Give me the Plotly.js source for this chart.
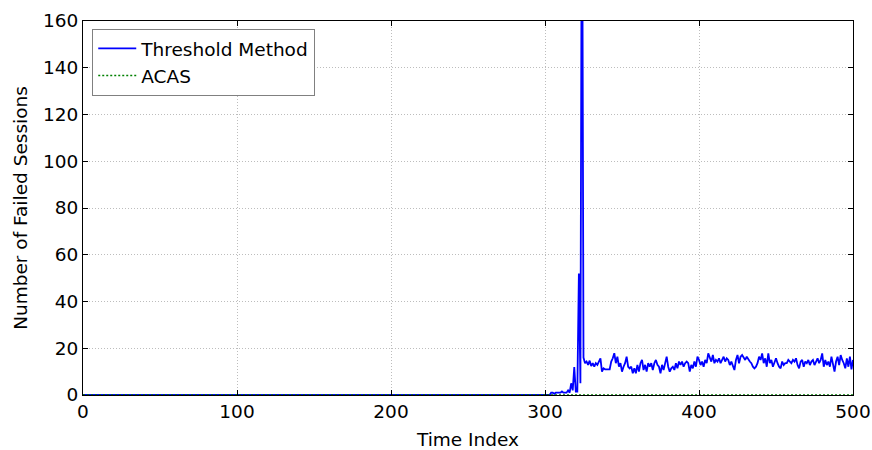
<!DOCTYPE html>
<html>
<head>
<meta charset="utf-8">
<script src="https://cdn.plot.ly/plotly-3.0.1.min.js"></script>
<style>html,body{margin:0;padding:0;background:#fff;}</style>
</head>
<body>
<div id="chart" style="width:872px;height:450px;"></div>
<script>
// Threshold Method: failed sessions per time index (0..500)
const thresholdValues = [
  0,0,0,0,0,0,0,0,0,0, 0,0,0,0,0,0,0,0,0,0, 0,0,0,0,0,0,0,0,0,0, 0,0,0,0,0,0,0,0,0,0, 0,0,0,0,0,0,0,0,0,0,
  0,0,0,0,0,0,0,0,0,0, 0,0,0,0,0,0,0,0,0,0, 0,0,0,0,0,0,0,0,0,0, 0,0,0,0,0,0,0,0,0,0, 0,0,0,0,0,0,0,0,0,0,
  0,0,0,0,0,0,0,0,0,0, 0,0,0,0,0,0,0,0,0,0, 0,0,0,0,0,0,0,0,0,0, 0,0,0,0,0,0,0,0,0,0, 0,0,0,0,0,0,0,0,0,0,
  0,0,0,0,0,0,0,0,0,0, 0,0,0,0,0,0,0,0,0,0, 0,0,0,0,0,0,0,0,0,0, 0,0,0,0,0,0,0,0,0,0, 0,0,0,0,0,0,0,0,0,0,
  0,0,0,0,0,0,0,0,0,0, 0,0,0,0,0,0,0,0,0,0, 0,0,0,0,0,0,0,0,0,0, 0,0,0,0,0,0,0,0,0,0, 0,0,0,0,0,0,0,0,0,0,
  0,0,0,0,0,0,0,0,0,0, 0,0,0,0,0,0,0,0,0,0, 0,0,0,0,0,0,0,0,0,0, 0,0,0,0,0,0,0,0,0,0, 0,0,0,0,0,0,0,0,0,0,
  0,0,0,0,
  // 304..325
  1,1,0.5,1,1,1,1,1.5,1,1,1,2,1,5,2,12,1.5,1.5,52,5,250,16,
  // 326..400
  13.6,14.3,12.9,14.7,12.4,13.6,12.1,13.6,12.9,14.3,15.7,10,11.4,11,11,11,11,14.3,15.7,17.9,
  13.6,16.4,12.1,13.6,10,12.1,13.6,16.4,12.1,11.4,12.1,9.3,11.4,9.3,12.9,10,13.6,15,10.7,12.9,
  10,13.6,12.1,13.6,10.7,13.6,15,12.9,12.1,9.3,12.9,10.7,13.6,16.4,12.1,10,11.4,12.1,10.7,13.6,
  11.4,14.3,12.9,14.3,12.1,13.6,14.3,13.6,10,12.9,11.4,14.3,12.1,16.4,15,
  // 401..500
  12.8,14.3,12.1,15,13.6,17.8,16.4,14.3,17.1,13.6,15,14.3,15.7,13.6,15,16.4,14.3,15.7,15,12.8,
  14.3,12.1,10.7,15,17.1,13.6,16.4,17.1,15.7,15,16.4,15,14.3,13.6,12.1,11.4,12.1,13.6,16.4,15,
  17.8,13.6,15.7,12.1,17.8,13.6,15,12.1,13.6,15.7,13.6,12.1,11.4,14.3,12.8,13.6,13.6,15,14.3,13.6,
  15,14.3,15.7,12.8,11.4,14.3,15,12.1,14.3,13.6,15,12.8,14.3,15,12.8,14.3,15.7,13.6,15,17.8,
  12.1,15,12.8,14.3,12.1,16.4,13.6,10,14.3,16.4,12.8,17.1,15,13.6,11.4,15.7,12.1,16.4,11,15
];

// ACAS: failed sessions per time index (0..500)
const acasValues = [
  0,0,0,0,0,0,0,0,0,0, 0,0,0,0,0,0,0,0,0,0, 0,0,0,0,0,0,0,0,0,0, 0,0,0,0,0,0,0,0,0,0, 0,0,0,0,0,0,0,0,0,0,
  0,0,0,0,0,0,0,0,0,0, 0,0,0,0,0,0,0,0,0,0, 0,0,0,0,0,0,0,0,0,0, 0,0,0,0,0,0,0,0,0,0, 0,0,0,0,0,0,0,0,0,0,
  0,0,0,0,0,0,0,0,0,0, 0,0,0,0,0,0,0,0,0,0, 0,0,0,0,0,0,0,0,0,0, 0,0,0,0,0,0,0,0,0,0, 0,0,0,0,0,0,0,0,0,0,
  0,0,0,0,0,0,0,0,0,0, 0,0,0,0,0,0,0,0,0,0, 0,0,0,0,0,0,0,0,0,0, 0,0,0,0,0,0,0,0,0,0, 0,0,0,0,0,0,0,0,0,0,
  0,0,0,0,0,0,0,0,0,0, 0,0,0,0,0,0,0,0,0,0, 0,0,0,0,0,0,0,0,0,0, 0,0,0,0,0,0,0,0,0,0, 0,0,0,0,0,0,0,0,0,0,
  0,0,0,0,0,0,0,0,0,0, 0,0,0,0,0,0,0,0,0,0, 0,0,0,0,0,0,0,0,0,0, 0,0,0,0,0,0,0,0,0,0, 0,0,0,0,0,0,0,0,0,0,
  0,0,0,0,0,0,0,0,0,0, 0,0,0,0,0,0,0,0,0,0, 0,0,0,0,0,0,0,0,0,0, 0,0,0,0,0,0,0,0,0,0, 0,0,0,0,0,0,0,0,0,0,
  0,0,0,0,0,0,0,0,0,0, 0,0,0,0,0,0,0,0,0,0, 0,0,0,0,0,0,0,0,0,0, 0,0,0,0,0,0,0,0,0,0, 0,0,0,0,0,0,0,0,0,0,
  0,0,0,0,0,0,0,0,0,0, 0,0,0,0,0,0,0,0,0,0, 0,0,0,0,0,0,0,0,0,0, 0,0,0,0,0,0,0,0,0,0, 0,0,0,0,0,0,0,0,0,0,
  0,0,0,0,0,0,0,0,0,0, 0,0,0,0,0,0,0,0,0,0, 0,0,0,0,0,0,0,0,0,0, 0,0,0,0,0,0,0,0,0,0, 0,0,0,0,0,0,0,0,0,0,
  0
];

const seriesNames = ['Threshold Method', 'ACAS'];
const xTickValues = [0, 100, 200, 300, 400, 500];
const yTickValues = [0, 20, 40, 60, 80, 100, 120, 140, 160];

const idx = arr => arr.map((_, i) => i);

const traces = [
  { x: idx(thresholdValues), y: thresholdValues, name: seriesNames[0], type: 'scatter', mode: 'lines',
    line: { color: '#0000ff', width: 1.8 } },
  { x: idx(acasValues), y: acasValues, name: seriesNames[1], type: 'scatter', mode: 'lines',
    line: { color: '#008000', width: 1.5, dash: '2px,2px' } }
];

const FS = 18.5;

const axisCommon = {
  ticks: 'inside', ticklen: 5, tickwidth: 1, tickcolor: 'black',
  showline: true, linecolor: 'black', linewidth: 1, mirror: 'ticks',
  showgrid: true, gridcolor: '#bdbdbd', griddash: '1px,2px', gridwidth: 1,
  zeroline: false, tickfont: { size: FS, color: 'black' }
};

const layout = {
  width: 872, height: 450,
  margin: { l: 83, r: 19, t: 21, b: 55 },
  paper_bgcolor: 'white', plot_bgcolor: 'white',
  font: { family: 'DejaVu Sans, sans-serif', size: FS, color: 'black' },
  showlegend: true,
  xaxis: Object.assign({}, axisCommon, {
    range: [0, 500], tickvals: xTickValues, ticktext: xTickValues.map(String),
    title: { text: 'Time Index', font: { size: FS }, standoff: 11 }
  }),
  yaxis: Object.assign({}, axisCommon, {
    range: [0, 160], tickvals: yTickValues, ticktext: yTickValues.map(String),
    title: { text: 'Number of Failed Sessions', font: { size: FS }, standoff: 10 }
  }),
  legend: {
    x: 0.012, y: 0.979, xanchor: 'left', yanchor: 'top',
    bgcolor: 'white', bordercolor: '#808080', borderwidth: 1,
    font: { size: FS, color: 'black' }, tracegroupgap: 0, itemwidth: 38
  }
};

Plotly.newPlot('chart', traces, layout, { displayModeBar: false, staticPlot: true });
</script>
</body>
</html>
